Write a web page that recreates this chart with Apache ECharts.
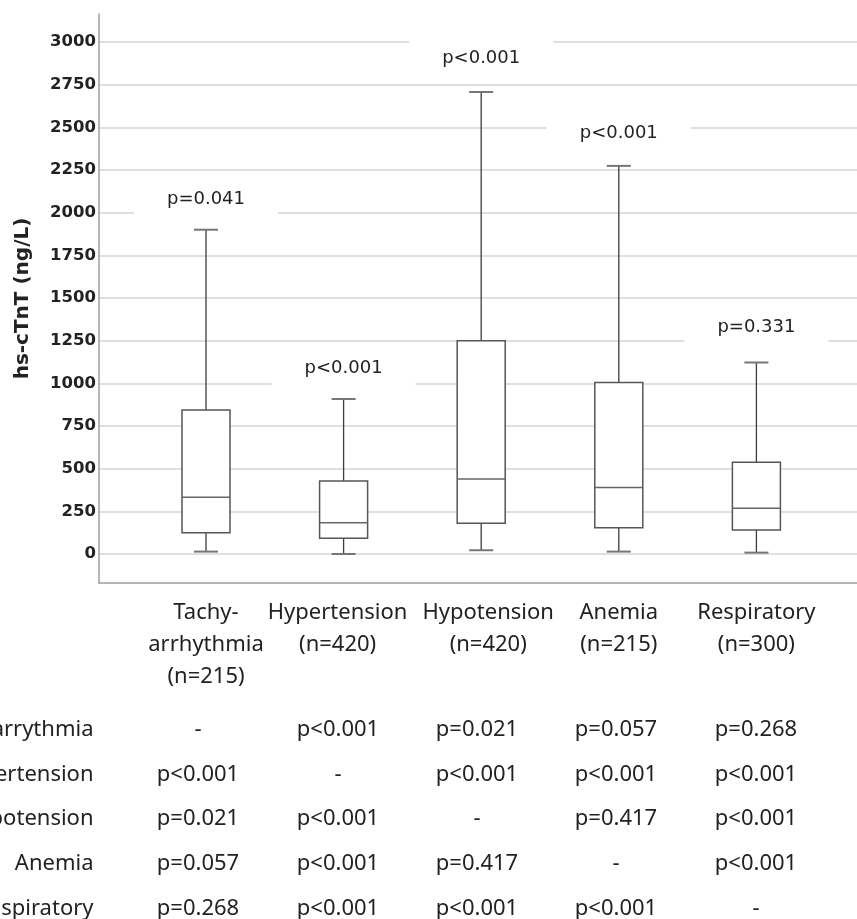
<!DOCTYPE html>
<html>
<head>
<meta charset="utf-8">
<script src="https://cdn.jsdelivr.net/npm/echarts@6/dist/echarts.min.js"></script>
<style>
html,body{margin:0;padding:0;background:#fff;}
#c{width:857px;height:919px;}
</style>
</head>
<body>
<div id="c"></div>
<script>
// ---- data ----
const categories = ['Tachy-\narrhythmia', 'Hypertension', 'Hypotension', 'Anemia', 'Respiratory'];
const groupN = [215, 420, 420, 215, 300];
const whiskerLow = [14, 0, 22, 14, 8];
const q1 = [125, 92, 180, 154, 140];
const median = [332, 183, 440, 390, 268];
const q3 = [843, 428, 1250, 1005, 538];
const whiskerHigh = [1900, 908, 2707, 2274, 1122];
const pVsOthers = ['p=0.041', 'p<0.001', 'p<0.001', 'p<0.001', 'p=0.331'];
const pLabelAt = [2080, 1090, 2904, 2466, 1326];
const yTicks = [0, 250, 500, 750, 1000, 1250, 1500, 1750, 2000, 2250, 2500, 2750, 3000];
const rowLabels = ['Tachyarrythmia', 'Hypertension', 'Hypotension', 'Anemia', 'Respiratory'];
const pairwiseP = [
  ['-', 'p<0.001', 'p=0.021', 'p=0.057', 'p=0.268'],
  ['p<0.001', '-', 'p<0.001', 'p<0.001', 'p<0.001'],
  ['p=0.021', 'p<0.001', '-', 'p=0.417', 'p<0.001'],
  ['p=0.057', 'p<0.001', 'p=0.417', '-', 'p<0.001'],
  ['p=0.268', 'p<0.001', 'p<0.001', 'p<0.001', '-']
];

// ---- layout constants ----
const labelShift = [0, -6, 7, 0, 0];
const tableColX = [198, 338, 477, 616, 756];
const tableRowY0 = 730, tableRowStep = 44.6, rowLabelRight = 93.5;
const textColor = '#222';

const chart = echarts.init(document.getElementById('c'), null, {renderer: 'canvas'});

const boxData = categories.map((c, i) => [i, whiskerLow[i], q1[i], median[i], q3[i], whiskerHigh[i]]);
const labelData = pLabelAt.map((v, i) => ({value: [i, v], label: {formatter: pVsOthers[i]}}));

const graphics = [];
rowLabels.forEach((r, ri) => {
  const y = tableRowY0 + ri * tableRowStep;
  graphics.push({
    type: 'text', silent: true,
    style: {text: r, x: rowLabelRight, y: y, align: 'right', verticalAlign: 'middle',
      textAlign: 'right', textVerticalAlign: 'middle',
      fontSize: 22, fontFamily: 'Noto Sans', fill: textColor}
  });
  pairwiseP[ri].forEach((p, ci) => {
    graphics.push({
      type: 'text', silent: true,
      style: {text: p, x: tableColX[ci], y: y, align: 'center', verticalAlign: 'middle',
        textAlign: 'center', textVerticalAlign: 'middle',
        fontSize: 22, fontFamily: 'Noto Sans', fill: textColor}
    });
  });
});

const catFont = {fontSize: 22, fontFamily: 'Noto Sans', color: textColor, lineHeight: 32};

const option = {
  animation: false,
  backgroundColor: '#fff',
  grid: [
    {left: 99, right: 0, top: 14, bottom: 336},
    {left: 137.2, right: 31.8, top: 14, bottom: 336}
  ],
  xAxis: [
    {
      gridIndex: 0, type: 'value', min: 0, max: 1,
      axisLine: {show: true, onZero: false, lineStyle: {color: '#9e9e9e', width: 1.5}},
      axisTick: {show: false}, axisLabel: {show: false}, splitLine: {show: false}
    },
    {
      gridIndex: 1, type: 'category', data: categories, boundaryGap: true,
      axisLine: {show: false}, axisTick: {show: false}, splitLine: {show: false},
      axisLabel: {
        interval: 0, margin: 14,
        fontSize: 22, fontFamily: 'Noto Sans', color: textColor, lineHeight: 32,
        formatter: function (v, i) {
          const s = labelShift[i];
          const st = s < 0 ? 'l' : (s > 0 ? 'r' : 'c');
          const lines = (v + '\n(n=' + groupN[i] + ')').split('\n');
          return lines.map(t => '{' + st + '|' + t + '}').join('\n');
        },
        rich: {
          c: Object.assign({}, catFont),
          l: Object.assign({padding: [0, 12, 0, 0]}, catFont),
          r: Object.assign({padding: [0, 0, 0, 14]}, catFont)
        }
      }
    }
  ],
  yAxis: [
    {
      gridIndex: 0, type: 'value', min: -170, max: 3164,
      name: 'hs-cTnT (ng/L)', nameLocation: 'middle', nameGap: 66,
      nameTextStyle: {fontFamily: 'DejaVu Sans', fontWeight: 'bold', fontSize: 20, color: textColor},
      axisLine: {show: true, onZero: false, lineStyle: {color: '#9e9e9e', width: 1.5}},
      axisTick: {show: false, customValues: yTicks},
      axisLabel: {customValues: yTicks, margin: 3, fontFamily: 'DejaVu Sans', fontWeight: 'bold',
        fontSize: 16.5, color: textColor, formatter: v => String(v)},
      splitLine: {show: true, lineStyle: {color: '#d6d6d6', width: 1.5}}
    },
    {gridIndex: 1, type: 'value', min: -170, max: 3164, show: false, splitLine: {show: false}}
  ],
  series: [
    {
      type: 'custom', xAxisIndex: 1, yAxisIndex: 1,
      data: boxData,
      encode: {x: 0, y: [1, 2, 3, 4, 5]},
      renderItem: function (params, api) {
        const i = api.value(0);
        const bw = api.size([1, 0])[0] * 0.349;
        const cx = api.coord([i, 0])[0];
        const yy = k => api.coord([i, api.value(k)])[1];
        const yLo = yy(1), yQ1 = yy(2), yMed = yy(3), yQ3 = yy(4), yHi = yy(5);
        const half = bw / 2, cap = bw / 4;
        const wStyle = {stroke: '#3d3d3d', lineWidth: 1.3};
        const cStyle = {stroke: '#767676', lineWidth: 2};
        return {
          type: 'group',
          children: [
            {type: 'line', shape: {x1: cx, y1: yHi, x2: cx, y2: yQ3}, style: wStyle},
            {type: 'line', shape: {x1: cx, y1: yQ1, x2: cx, y2: yLo}, style: wStyle},
            {type: 'line', shape: {x1: cx - cap, y1: yHi, x2: cx + cap, y2: yHi}, style: cStyle},
            {type: 'line', shape: {x1: cx - cap, y1: yLo, x2: cx + cap, y2: yLo}, style: cStyle},
            {type: 'rect', shape: {x: cx - half, y: yQ3, width: bw, height: yQ1 - yQ3},
              style: {fill: '#ffffff', stroke: '#565656', lineWidth: 1.5}},
            {type: 'line', shape: {x1: cx - half, y1: yMed, x2: cx + half, y2: yMed},
              style: {stroke: '#666666', lineWidth: 1.5}}
          ]
        };
      }
    },
    {
      type: 'scatter', xAxisIndex: 1, yAxisIndex: 1,
      data: labelData, symbolSize: 1, itemStyle: {color: 'rgba(0,0,0,0)'},
      silent: true, z: 5,
      label: {
        show: true, position: 'inside', opacity: 1,
        fontFamily: 'DejaVu Sans', fontSize: 18, color: textColor,
        lineHeight: 22, backgroundColor: '#ffffff', padding: [8, 33, 8, 33]
      }
    }
  ],
  graphic: graphics
};
chart.setOption(option);
</script>
</body>
</html>
